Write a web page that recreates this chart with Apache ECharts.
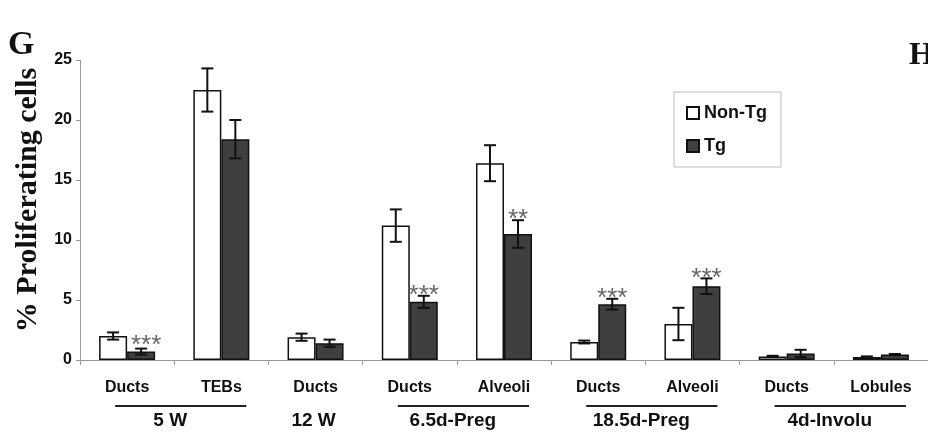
<!DOCTYPE html>
<html>
<head>
<meta charset="utf-8">
<script src="https://cdn.jsdelivr.net/npm/echarts@6/dist/echarts.min.js"></script>
<style>
html,body{margin:0;padding:0;background:#fff;}
#chart{width:928px;height:435px;}
</style>
</head>
<body>
<div id="chart"></div>
<script>
// ---- data ----
const categories = ['Ducts','TEBs','Ducts','Ducts','Alveoli','Ducts','Alveoli','Ducts','Lobules'];
const nonTg    = [2.0, 22.5, 1.9, 11.2, 16.4, 1.5, 3.0, 0.3, 0.25];
const nonTgErr = [0.3, 1.8, 0.3, 1.35, 1.5, 0.12, 1.35, 0.05, 0.05];
const tg       = [0.7, 18.4, 1.4, 4.85, 10.5, 4.65, 6.15, 0.55, 0.45];
const tgErr    = [0.25, 1.6, 0.3, 0.5, 1.15, 0.45, 0.65, 0.3, 0.05];
const tgSig    = ['***','','','***','**','***','***','',''];
const groupLabels = ['5 W','12 W','6.5d-Preg','18.5d-Preg','4d-Involu'];
const groupStart  = [0,2,3,5,7];
const groupEnd    = [1,2,4,6,8];
const yTicks = [0,5,10,15,20,25];

const SANS = '"Liberation Sans", Arial, sans-serif';
const SERIF = '"Liberation Serif", "Times New Roman", serif';
const BAR_W = 28;

const chart = echarts.init(document.getElementById('chart'), null, {renderer:'canvas'});

function errSeries(name, vals, errs, offset, sig){
  return {
    type:'custom', name: name + ' err', silent:true, z:5,
    encode:{x:0,y:1},
    data: vals.map((v,i)=>[i, v, errs[i]]),
    renderItem: function(params, api){
      const i = api.value(0), v = api.value(1), e = api.value(2);
      const c = api.coord([i, v]);
      const x = c[0] + offset;
      const yt = api.coord([i, v + e])[1];
      const yb = api.coord([i, Math.max(v - e, 0)])[1];
      const st = {stroke:'#111', lineWidth:2};
      const ch = [
        {type:'line', shape:{x1:x,y1:yt,x2:x,y2:yb}, style:st},
        {type:'line', shape:{x1:x-6,y1:yt,x2:x+6,y2:yt}, style:st},
        {type:'line', shape:{x1:x-6,y1:yb,x2:x+6,y2:yb}, style:st}
      ];
      const s = sig ? sig[params.dataIndex] : '';
      if (s) {
        ch.push({type:'text', x: x + (params.dataIndex===0 ? 5 : 0), y: yt - (params.dataIndex===0 ? 3 : 0),
          style:{text:s, fill:'#666', font:'26px ' + SANS, align:'center', verticalAlign:'middle'}});
      }
      return {type:'group', children:ch};
    }
  };
}

const option = {
  animation:false,
  backgroundColor:'#fff',
  grid:{left:80, top:60, width:855, height:300},
  legend:{
    orient:'vertical', left:674, top:92,
    data:['Non-Tg','Tg'],
    icon:'rect', itemWidth:12, itemHeight:12, itemGap:15,
    padding:[12,14,12,12],
    borderColor:'#bbb', borderWidth:1, backgroundColor:'#fff',
    textStyle:{fontFamily:SANS, fontWeight:'bold', fontSize:18, color:'#111'}
  },
  xAxis:{
    type:'category', data:categories,
    axisLine:{lineStyle:{color:'#999', width:1}},
    axisTick:{show:true, length:5, lineStyle:{color:'#999'}},
    axisLabel:{fontFamily:SANS, fontWeight:'bold', fontSize:16, color:'#111', margin:20, interval:0}
  },
  yAxis:{
    type:'value', min:0, max:25, interval:5,
    name:'% Proliferating cells', nameLocation:'middle', nameGap:36, nameRotate:90,
    nameTextStyle:{fontFamily:SERIF, fontWeight:'bold', fontSize:30, color:'#111', padding:[0,0,0,20]},
    axisLine:{show:true, lineStyle:{color:'#999', width:1}},
    axisTick:{show:true, length:4, lineStyle:{color:'#999'}},
    splitLine:{show:false},
    axisLabel:{fontFamily:SANS, fontWeight:'bold', fontSize:16, color:'#111', margin:8,
      formatter:v=> yTicks.indexOf(v) >= 0 ? String(v) : ''}
  },
  series:[
    {type:'bar', name:'Non-Tg', data:nonTg, barWidth:BAR_W, barGap:'0%',
      itemStyle:{color:'#fff', borderColor:'#111', borderWidth:1.5}},
    {type:'bar', name:'Tg', data:tg, barWidth:BAR_W, barGap:'0%',
      itemStyle:{color:'#3f3f3f', borderColor:'#111', borderWidth:1.5}},
    errSeries('Non-Tg', nonTg, nonTgErr, -BAR_W/2, null),
    errSeries('Tg', tg, tgErr, BAR_W/2, tgSig)
  ]
};
chart.setOption(option);

// group labels and lines under the category axis
const gfx = [
  {type:'text', left:8, top:28, style:{text:'G', font:'bold 34px ' + SERIF, fill:'#111'}},
  {type:'text', left:909, top:40, style:{text:'H', font:'bold 32px ' + SERIF, fill:'#111'}}
];
groupLabels.forEach((lab, g)=>{
  const x1 = chart.convertToPixel({xAxisIndex:0}, groupStart[g]);
  const x2 = chart.convertToPixel({xAxisIndex:0}, groupEnd[g]);
  const mid = (x1 + x2) / 2;
  if (groupEnd[g] > groupStart[g]) {
    gfx.push({type:'line', shape:{x1:x1-12, y1:406, x2:x2+25, y2:406},
      style:{stroke:'#222', lineWidth:2}});
  }
  gfx.push({type:'text', x: mid - (groupEnd[g] > groupStart[g] ? 4 : 2), y:421,
    style:{text:lab, font:'bold 19px ' + SANS, fill:'#111', align:'center', verticalAlign:'middle'}});
});
chart.setOption({graphic:{elements:gfx}});
</script>
</body>
</html>
